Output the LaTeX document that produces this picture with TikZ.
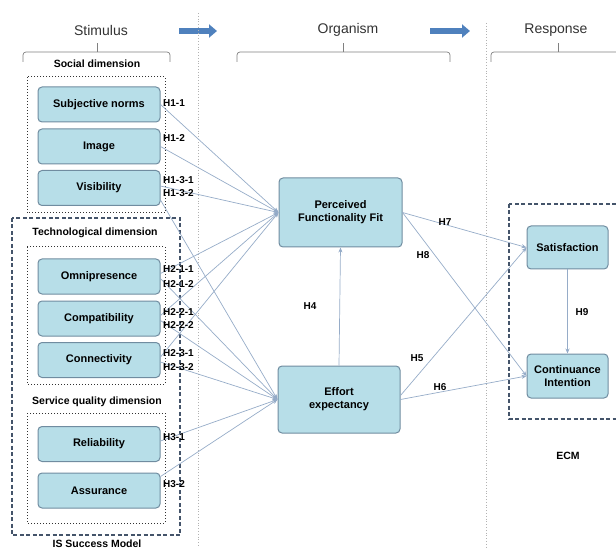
\documentclass[tikz,border=0pt]{standalone}
\usepackage{fontspec}
\setmainfont{Liberation Sans}
\usetikzlibrary{arrows.meta, positioning}
\definecolor{boxblue}{RGB}{183,222,232}
\definecolor{boxedge}{RGB}{112,140,160}
\definecolor{linkblue}{RGB}{150,172,200}
\definecolor{slategray}{RGB}{68,84,106}
\definecolor{fatblue}{RGB}{79,129,189}
\definecolor{headgray}{RGB}{50,50,50}

\begin{document}
\begin{tikzpicture}[x=1pt, y=-1pt,
  factor/.style={draw=boxedge, line width=1pt, fill=boxblue, rounded corners=4pt,
    minimum width=122pt, minimum height=35pt, align=center,
    font=\bfseries\fontsize{11}{13}\selectfont},
  hyp/.style={anchor=west, inner sep=0pt, font=\bfseries\fontsize{10}{11}\selectfont},
  dimlabel/.style={font=\bfseries\fontsize{10.5}{12}\selectfont},
  stage/.style={font=\fontsize{14}{16}\selectfont, text=headgray},
  link/.style={draw=linkblue, line width=0.7pt, -{Stealth[length=5pt, width=4pt, fill=fatblue]}},
  group/.style={draw=slategray, line width=1.5pt, dash pattern=on 4pt off 2.5pt},
  subgroup/.style={draw=headgray, line width=1pt, dotted},
  bracket/.style={draw=gray, line width=0.7pt, rounded corners=3pt},
  stagearrow/.style={draw=fatblue, line width=6.5pt, -{Triangle[length=8pt, width=13pt]}}
]
  \useasboundingbox (0,0) rectangle (616,548);

  % stages of the S-O-R model
  \node[stage] (stim) at (101,30) {Stimulus};
  \node[stage] (orga) at (348,30) {Organism};
  \node[stage] (resp) at (556,30) {Response};
  \coordinate (arrowA) at (179,31);
  \coordinate (arrowB) at (430,31);
  \draw[stagearrow] (arrowA) -- ++(38,0);
  \draw[stagearrow] (arrowB) -- ++(40,0);

  \draw[bracket] (23,62) -- (23,52) -- (170,52) -- (170,62);
  \draw[bracket] (97,52) -- (97,43);
  \draw[bracket] (237,62) -- (237,52) -- (450,52) -- (450,62);
  \draw[bracket] (343,52) -- (343,43);
  \draw[bracket] (491,62) -- (491,52) -- (660,52) -- (660,62);
  \draw[bracket] (558,52) -- (558,43);

  \draw[gray!60, dotted, line width=0.8pt] (198,13) -- (198,548);
  \draw[gray!60, dotted, line width=0.8pt] (486,23) -- (486,548);

  % stimulus groups
  \draw[subgroup] (27,77) rectangle (165,213);
  \draw[group] (12,218) rectangle (180,535);
  \draw[subgroup] (27,247) rectangle (165,384);
  \draw[subgroup] (27,413) rectangle (165,523);
  \draw[group] (509,204) rectangle (640,419);

  \node[dimlabel] (social) at (97,64) {Social dimension};
  \node[dimlabel] (techno) at (95,233) {Technological dimension};
  \node[dimlabel] (servq) at (97,402) {Service quality dimension};
  \node[dimlabel, anchor=base] (issm) at (97,547) {IS Success Model};
  \node[dimlabel] (ecm) at (568,456) {ECM};

  % factors
  \node[factor] (subj) at (99,104.5) {Subjective norms};
  \node[factor] (img) at (99,146.5) {Image};
  \node[factor] (vis) at (99,188) {Visibility};
  \node[factor] (omni) at (99,276.5) {Omnipresence};
  \node[factor] (comp) at (99,318.5) {Compatibility};
  \node[factor] (conn) at (99,360) {Connectivity};
  \node[factor] (reli) at (99,444) {Reliability};
  \node[factor] (assu) at (99,490.5) {Assurance};

  \node[factor, minimum width=123pt, minimum height=69pt] (pff) at (340.5,212.5) {Perceived\\Functionality Fit};
  \node[factor, minimum width=122pt, minimum height=67pt] (ee) at (339,399.5) {Effort\\expectancy};
  \node[factor, minimum width=81pt, minimum height=43pt] (sat) at (567.5,247.5) {Satisfaction};
  \node[factor, minimum width=81pt, minimum height=44pt] (ci) at (567.5,376) {Continuance\\Intention};

  % hypotheses
  \draw[link] (subj.east) -- (pff.west);
  \draw[link] (img.east) -- (pff.west);
  \draw[link] ([yshift=2pt]vis.east) -- (pff.west);
  \draw[link] ([yshift=-12pt]vis.east) -- (ee.west);
  \draw[link] ([yshift=3pt]omni.east) -- (pff.west);
  \draw[link] ([yshift=-2pt]omni.east) -- (ee.west);
  \draw[link] ([yshift=3pt]comp.east) -- (pff.west);
  \draw[link] ([yshift=-2pt]comp.east) -- (ee.west);
  \draw[link] ([yshift=3pt]conn.east) -- (pff.west);
  \draw[link] ([yshift=-2pt]conn.east) -- (ee.west);
  \draw[link] ([yshift=3pt]reli.east) -- (ee.west);
  \draw[link] ([yshift=14pt]assu.east) -- (ee.west);

  \draw[link] (ee.north) -- (pff.south);
  \draw[link] (pff.east) -- (sat.west);
  \draw[link] (pff.east) -- (ci.west);
  \draw[link] ([yshift=4pt]ee.east) -- (sat.west);
  \draw[link] (ee.east) -- (ci.west);
  \draw[link] (sat.south) -- (ci.north);

  \node[hyp] (h11) at (163,103) {H1-1};
  \node[hyp] (h12) at (163,138) {H1-2};
  \node[hyp] (h131) at (163,180) {H1-3-1};
  \node[hyp] (h132) at (163,193) {H1-3-2};
  \node[hyp] (h211) at (163,269) {H2-1-1};
  \node[hyp] (h212) at (163,284) {H2-1-2};
  \node[hyp] (h221) at (163,312) {H2-2-1};
  \node[hyp] (h222) at (163,325) {H2-2-2};
  \node[hyp] (h231) at (163,353) {H2-3-1};
  \node[hyp] (h232) at (163,367) {H2-3-2};
  \node[hyp] (h31) at (163,437) {H3-1};
  \node[hyp] (h32) at (163,484) {H3-2};
  \node[hyp, anchor=center] (h4) at (310,306) {H4};
  \node[hyp, anchor=center] (h5) at (417,358) {H5};
  \node[hyp, anchor=center] (h6) at (440,387) {H6};
  \node[hyp, anchor=center] (h7) at (445,222) {H7};
  \node[hyp, anchor=center] (h8) at (423,255) {H8};
  \node[hyp, anchor=center] (h9) at (582,312) {H9};
\end{tikzpicture}
\end{document}
